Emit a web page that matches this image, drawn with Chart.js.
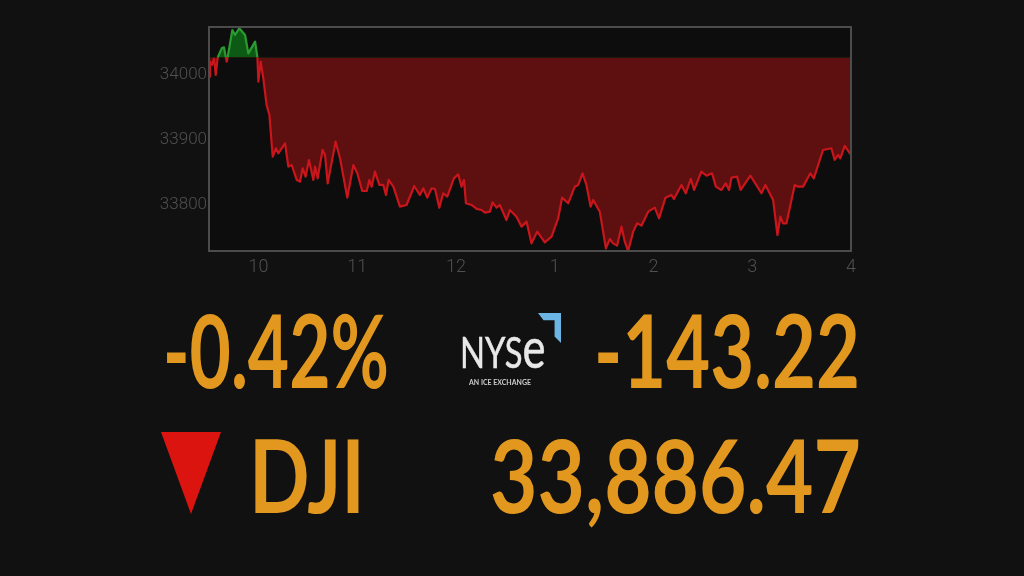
<!DOCTYPE html>
<html>
<head>
<meta charset="utf-8">
<style>
  html, body { margin: 0; padding: 0; background: #111; }
  #wrap { position: relative; width: 1024px; height: 576px; overflow: hidden; background: #111; filter: blur(0.5px); }
  #chart { position: absolute; left: 0; top: 0; }
  .big { position: absolute; color: #e2981f; font-family: Lato, sans-serif; font-weight: 700; font-size: 102px; line-height: 100px; white-space: nowrap; transform-origin: left top; }
  #triangle { position: absolute; left: 161px; top: 432px; width: 60px; height: 82px; background: #dc1410; clip-path: polygon(0 0, 100% 0, 50% 100%); }
  #nyse { position: absolute; left: 460px; top: 326px; color: #e8e8e8; -webkit-text-stroke: 0.5px #e8e8e8; font-family: Lato, sans-serif; font-size: 42px; line-height: 42px; font-weight: 400; white-space: nowrap; transform-origin: left top; transform: scaleX(0.78); }
  #nyse span { font-size: 56px; line-height: 42px; }
  #ice { position: absolute; left: 469px; top: 377px; color: #ccc; font-family: Lato, sans-serif; font-size: 8px; line-height: 10px; font-weight: 700; white-space: nowrap; transform-origin: left top; transform: scaleX(0.87); }
  #corner { position: absolute; left: 538px; top: 313px; width: 23px; height: 30px; background: #6cb4e4; clip-path: polygon(0 0, 100% 0, 100% 100%, 72% 78%, 72% 24%, 24% 24%); }
</style>
</head>
<body>
<div id="wrap">
  <canvas id="chart" width="1024" height="576"></canvas>
  <div class="big" id="pct" style="left:163px;top:299px">-0.42%</div>
  <div class="big" id="chg" style="left:594px;top:299px">-143.22</div>
  <div class="big" id="sym" style="left:249px;top:424px">DJI</div>
  <div class="big" id="idx" style="left:490px;top:424px">33,886.47</div>
  <div id="triangle"></div>
  <div id="nyse">NYS<span>e</span></div>
  <div id="ice">AN ICE EXCHANGE</div>
  <div id="corner"></div>
</div>
<script src="https://cdn.jsdelivr.net/npm/chart.js@4"></script>
<script>
// minutes after 9:30
const minutes = [0,0.6,1.8,3.1,4.1,5.3,7.7,9.1,10.2,10.8,11.3,14.2,15.8,18.4,21.9,23.9,28,29.4,30,31.4,33,35,36.7,38.7,40.7,42.1,46.2,48.2,50.2,53.3,55.3,56.9,58.7,60.7,63.4,64.4,66,69,70.5,72.1,76.9,79.6,84,87.7,90.1,93.1,95.8,97.4,98.8,100.8,103.5,105.9,107.5,109.1,112,116,120,124.7,128.1,130.2,132.6,135.2,137.3,139.9,142.3,144.7,148.8,151.4,153.4,154.9,156.1,159.5,162.6,165.6,167.6,170.6,172.3,174.7,176.7,180.7,182.8,186.8,189.9,192.9,195.9,199.4,204,208.1,212.1,214.5,218.2,222.2,224.3,226.9,229.3,231.8,233.4,237.4,241.1,243.5,245.5,247.9,250.6,252.6,254.6,257.7,260.1,262.7,266.8,270.8,273.4,277.3,280.9,282.4,287,289.6,292.7,294.7,299.1,302.2,305.6,307.9,311.3,313.9,315.9,317.4,320.8,323,328.9,335.6,338,342.7,345.3,347.1,348.7,350.8,355.8,357.8,360.9,365.3,367.4,373,378.1,380.1,382.1,383.5,386.2,390];
const prices = [33997.4,34020.5,34015.4,34025,34000,34027,34041,34042.6,34027,34020.5,34027,34069.2,34061.5,34071.8,34061.5,34033.3,34051.3,34027,33989.7,34020.5,33994.9,33953.8,33938.5,33874.4,33887.2,33879.5,33894.9,33859,33861.5,33838.5,33835.9,33856.4,33843.6,33869.2,33838.5,33859,33841,33884.6,33876.9,33833.3,33897.4,33871.8,33811.3,33861.5,33848.7,33821.5,33821.5,33838.5,33828.2,33851.3,33830.8,33830.8,33815.4,33838.5,33828.2,33797.4,33800,33829.2,33815.4,33825.6,33811.3,33825.6,33824.6,33795.9,33818,33812.8,33841,33847.2,33828.2,33838.5,33802.6,33800,33793.9,33792.3,33788.2,33789.7,33804.1,33795.9,33800,33776.9,33792.3,33782,33766.7,33774.4,33741,33759,33742.6,33751.3,33779.5,33811.3,33802.6,33828.2,33830.8,33848.7,33830.8,33797.4,33807.7,33789.7,33733.3,33747.7,33741,33737.4,33766.7,33743.6,33729.2,33759,33771.8,33768.2,33789.7,33795.9,33779.5,33811.3,33815.4,33809.2,33830.8,33818,33840,33823.1,33851.3,33845.1,33848.7,33828.2,33823.1,33833.3,33823.1,33842.1,33843.6,33823.1,33845.1,33818,33830.8,33807.7,33753.8,33782,33771.8,33771.8,33830.8,33828.2,33828.2,33848.7,33841,33884.6,33887.2,33869.2,33876.9,33871.8,33890.8,33876.9];
const prevClose = 34027;
const hourTicks = [30,90,150,210,270,330,390];
const hourLabels = ['10','11','12','1','2','3','4'];
const priceTicks = [33800,33900,34000];

const RED = '#c8161c', GREEN = '#2c9a33', TICK = '#505050';

// box round the plot, darker inside
const plotBox = {
  id: 'plotBox',
  beforeDatasetsDraw(chart) {
    const a = chart.chartArea, ctx = chart.ctx;
    ctx.save();
    ctx.fillStyle = '#0d0d0d';
    ctx.fillRect(a.left, a.top, a.width, a.height);
    ctx.restore();
  },
  afterDatasetsDraw(chart) {
    const a = chart.chartArea, ctx = chart.ctx;
    ctx.save();
    ctx.strokeStyle = '#4c4c4c';
    ctx.lineWidth = 2;
    ctx.strokeRect(a.left, a.top, a.width, a.height);
    ctx.restore();
  }
};

new Chart(document.getElementById('chart'), {
  type: 'line',
  data: {
    datasets: [{
      data: minutes.map((m, i) => ({ x: m, y: prices[i] })),
      borderWidth: 2.2,
      borderColor: RED,
      borderJoinStyle: 'round',
      pointRadius: 0,
      tension: 0,
      fill: { target: { value: prevClose }, above: '#0c5a14', below: '#5e0f0f' },
      segment: {
        borderColor: c => (c.p0.parsed.y >= prevClose && c.p1.parsed.y >= prevClose) ? GREEN : RED
      }
    }]
  },
  plugins: [plotBox],
  options: {
    responsive: false,
    animation: false,
    layout: { padding: { top: 27, right: 173, left: 0, bottom: 0 } },
    plugins: { legend: { display: false }, tooltip: { enabled: false } },
    scales: {
      x: {
        type: 'linear',
        min: 0,
        max: 390,
        afterFit: s => { s.height = 325; },
        afterBuildTicks: s => { s.ticks = hourTicks.map(v => ({ value: v })); },
        grid: { display: false, drawTicks: false },
        border: { display: false },
        ticks: {
          color: TICK, padding: 6, maxRotation: 0, autoSkip: false,
          font: { family: 'Roboto', size: 18, weight: '300' },
          callback: v => hourLabels[hourTicks.indexOf(v)]
        }
      },
      y: {
        min: 33729.2,
        max: 34073.8,
        afterFit: s => { s.width = 209; },
        afterBuildTicks: s => { s.ticks = priceTicks.map(v => ({ value: v })); },
        grid: { display: false, drawTicks: false },
        border: { display: false },
        ticks: {
          color: TICK, padding: 2,
          font: { family: 'Roboto', size: 17, weight: '300' },
          callback: v => String(v)
        }
      }
    }
  }
});

// squeeze the big readouts to the widths in the picture
const widths = { pct: 226, chg: 266, sym: 116, idx: 371 };
Object.keys(widths).forEach(id => {
  const el = document.getElementById(id);
  el.style.transform = `scaleX(${widths[id] / el.getBoundingClientRect().width})`;
});
</script>
</body>
</html>
